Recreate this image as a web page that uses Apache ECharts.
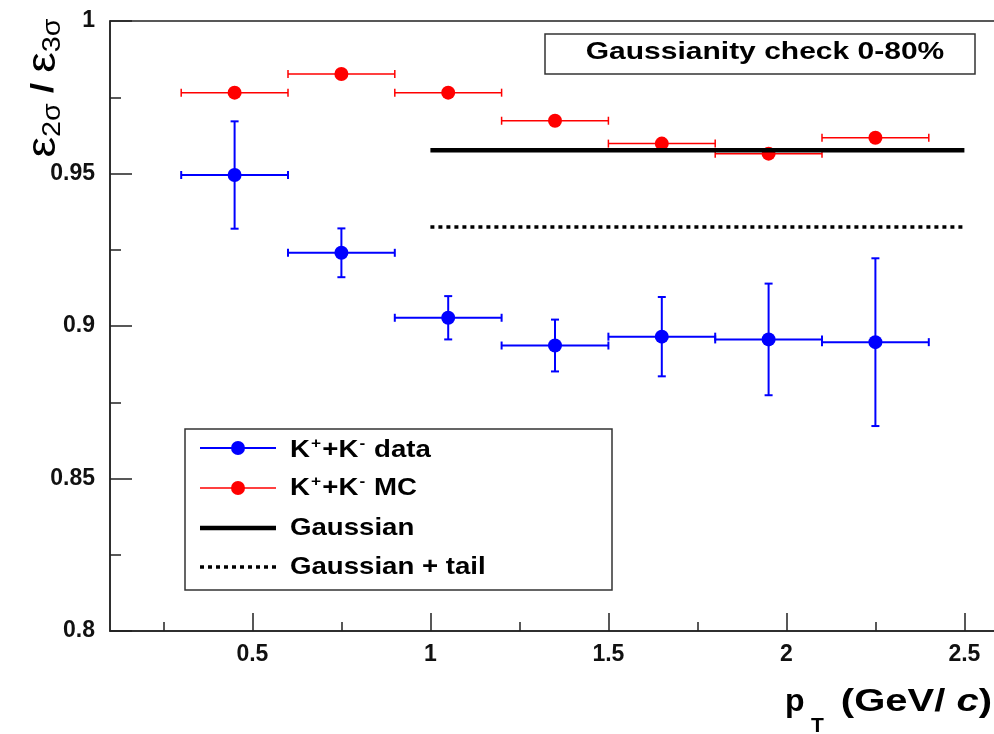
<!DOCTYPE html>
<html>
<head>
<meta charset="utf-8">
<script src="https://cdn.jsdelivr.net/npm/echarts@6/dist/echarts.min.js"></script>
<style>
html,body{margin:0;padding:0;background:#fff;}
#chart{width:994px;height:734px;}
</style>
</head>
<body>
<div id="chart"></div>
<script>
// ---- data ----
const ptCenters   = [0.45, 0.75, 1.05, 1.35, 1.65, 1.95, 2.25];
const ptHalfWidth = [0.15, 0.15, 0.15, 0.15, 0.15, 0.15, 0.15];
const dataRatio   = [0.9495, 0.9240, 0.9027, 0.8936, 0.8965, 0.8956, 0.8947];
const dataErr     = [0.0176, 0.0080, 0.0071, 0.0085, 0.0130, 0.0183, 0.0275];
const mcRatio     = [0.9765, 0.9826, 0.9765, 0.9673, 0.9598, 0.9565, 0.9617];
const mcErr       = [0, 0, 0, 0, 0, 0, 0];
const refRangeX   = [1.0, 2.5];
const gaussianY   = 0.9576;
const tailY       = 0.9325;
const xMajorTicks = [0.5, 1, 1.5, 2, 2.5];
const xMinorTicks = [0.25, 0.75, 1.25, 1.75, 2.25];

const BLUE = '#0000ff', RED = '#ff0000', AX = '#222';
const FONT = 'Liberation Sans, Arial, sans-serif';

function errData(ys, es) {
  return ptCenters.map((x, i) => [x, ys[i], ptHalfWidth[i], es[i]]);
}
function errRender(color, lw, cap) {
  return function (params, api) {
    const x = api.value(0), y = api.value(1), ex = api.value(2), ey = api.value(3);
    const l = api.coord([x - ex, y]), r = api.coord([x + ex, y]);
    const t = api.coord([x, y + ey]), b = api.coord([x, y - ey]);
    const st = { stroke: color, lineWidth: lw };
    const ch = [
      { type: 'line', shape: { x1: l[0], y1: l[1], x2: r[0], y2: r[1] }, style: st },
      { type: 'line', shape: { x1: l[0], y1: l[1] - cap, x2: l[0], y2: l[1] + cap }, style: st },
      { type: 'line', shape: { x1: r[0], y1: r[1] - cap, x2: r[0], y2: r[1] + cap }, style: st }
    ];
    if (ey > 0) {
      ch.push({ type: 'line', shape: { x1: t[0], y1: t[1], x2: b[0], y2: b[1] }, style: st });
      ch.push({ type: 'line', shape: { x1: t[0] - cap, y1: t[1], x2: t[0] + cap, y2: t[1] }, style: st });
      ch.push({ type: 'line', shape: { x1: b[0] - cap, y1: b[1], x2: b[0] + cap, y2: b[1] }, style: st });
    }
    return { type: 'group', children: ch };
  };
}

const chart = echarts.init(document.getElementById('chart'));
const labelStyle = { color: '#111', fontSize: 23, fontWeight: 'bold', fontFamily: FONT };

const supRich = {
  m: { fontSize: 24, fontWeight: 'bold', fontFamily: FONT, color: '#000', lineHeight: 28 },
  u: { fontSize: 15, fontWeight: 'bold', fontFamily: FONT, color: '#000', lineHeight: 15, verticalAlign: 'top', padding: [0, 1, 0, 1] }
};
const legTextScale = 1.15;

const option = {
  animation: false,
  backgroundColor: '#fff',
  grid: { left: 110, top: 21, width: 890, height: 610, show: true, borderColor: AX, borderWidth: 1.5,
          backgroundColor: 'transparent', outerBoundsMode: 'none', containLabel: false },
  xAxis: [
    {
      type: 'value', min: 0.1, max: 2.6,
      axisLine: { show: true, lineStyle: { color: AX, width: 1.5 } },
      axisTick: { show: true, inside: true, length: 18, customValues: xMajorTicks, lineStyle: { color: AX, width: 1.5 } },
      axisLabel: { show: true, customValues: xMajorTicks, margin: 12, ...labelStyle },
      splitLine: { show: false }
    },
    {
      type: 'value', min: 0.1, max: 2.6, position: 'bottom',
      axisLine: { show: false },
      axisTick: { show: true, inside: true, length: 9, customValues: xMinorTicks, lineStyle: { color: AX, width: 1.5 } },
      axisLabel: { show: false },
      splitLine: { show: false }
    }
  ],
  yAxis: {
    type: 'value', min: 0.8, max: 1.0, interval: 0.05,
    axisLine: { show: true, lineStyle: { color: AX, width: 1.5 } },
    axisTick: { show: true, inside: true, length: 22, lineStyle: { color: AX, width: 1.5 } },
    minorTick: { show: true, splitNumber: 2, length: 11, lineStyle: { color: AX, width: 1.5 } },
    axisLabel: { margin: 15, ...labelStyle },
    splitLine: { show: false }
  },
  series: [
    { type: 'custom', name: 'mcErr', renderItem: errRender(RED, 1.5, 4), data: errData(mcRatio, mcErr), z: 2 },
    { type: 'scatter', name: 'MC', data: ptCenters.map((x, i) => [x, mcRatio[i]]), symbol: 'circle', symbolSize: 14, itemStyle: { color: RED, opacity: 1 }, z: 3 },
    { type: 'custom', name: 'dataErr', renderItem: errRender(BLUE, 2, 4), data: errData(dataRatio, dataErr), z: 2 },
    { type: 'scatter', name: 'data', data: ptCenters.map((x, i) => [x, dataRatio[i]]), symbol: 'circle', symbolSize: 14, itemStyle: { color: BLUE, opacity: 1 }, z: 3 },
    { type: 'line', name: 'Gaussian', data: refRangeX.map(x => [x, gaussianY]), symbol: 'none', lineStyle: { color: '#000', width: 4.5 }, z: 5 },
    { type: 'line', name: 'Gaussian + tail', data: refRangeX.map(x => [x, tailY]), symbol: 'none', lineStyle: { color: '#000', width: 3.5, type: [4, 4] }, z: 5 }
  ],
  graphic: [
    // title box
    { type: 'rect', shape: { x: 545, y: 34, width: 430, height: 40 }, style: { fill: '#fff', stroke: '#333', lineWidth: 1.5 }, z: 10 },
    { type: 'text', x: 765, y: 52, scaleX: 1.25, style: { text: 'Gaussianity check 0-80%', font: 'bold 24px ' + FONT, fill: '#000', textAlign: 'center', textVerticalAlign: 'middle' }, z: 11 },
    // legend box
    { type: 'rect', shape: { x: 185, y: 429, width: 427, height: 161 }, style: { fill: '#fff', stroke: '#333', lineWidth: 1.5 }, z: 10 },
    { type: 'line', shape: { x1: 200, y1: 448, x2: 276, y2: 448 }, style: { stroke: BLUE, lineWidth: 2 }, z: 11 },
    { type: 'circle', shape: { cx: 238, cy: 448, r: 7 }, style: { fill: BLUE }, z: 12 },
    { type: 'line', shape: { x1: 200, y1: 488, x2: 276, y2: 488 }, style: { stroke: RED, lineWidth: 1.5 }, z: 11 },
    { type: 'circle', shape: { cx: 238, cy: 488, r: 7 }, style: { fill: RED }, z: 12 },
    { type: 'line', shape: { x1: 200, y1: 528, x2: 276, y2: 528 }, style: { stroke: '#000', lineWidth: 4.5 }, z: 11 },
    { type: 'line', shape: { x1: 200, y1: 567, x2: 276, y2: 567 }, style: { stroke: '#000', lineWidth: 3.5, lineDash: [4, 4] }, z: 11 },
    { type: 'text', x: 290, y: 450, scaleX: legTextScale, style: { text: '{m|K}{u|+}{m|+K}{u|-}{m| data}', rich: supRich, textVerticalAlign: 'middle' }, z: 11 },
    { type: 'text', x: 290, y: 488, scaleX: legTextScale, style: { text: '{m|K}{u|+}{m|+K}{u|-}{m| MC}', rich: supRich, textVerticalAlign: 'middle' }, z: 11 },
    { type: 'text', x: 290, y: 528, scaleX: legTextScale, style: { text: 'Gaussian', font: 'bold 24px ' + FONT, fill: '#000', textVerticalAlign: 'middle' }, z: 11 },
    { type: 'text', x: 290, y: 567, scaleX: legTextScale, style: { text: 'Gaussian + tail', font: 'bold 24px ' + FONT, fill: '#000', textVerticalAlign: 'middle' }, z: 11 },
    // y axis title
    { type: 'text', x: 44, y: 88, rotation: Math.PI / 2, scaleX: 1.15,
      style: { text: '{e|ε}{s|2σ}{b| / }{e|ε}{s|3σ}', textAlign: 'center', textVerticalAlign: 'middle',
        rich: {
          e: { fontSize: 40, fontFamily: FONT, color: '#000', lineHeight: 44 },
          s: { fontSize: 25, fontFamily: FONT, color: '#000', lineHeight: 25, verticalAlign: 'bottom' },
          b: { fontSize: 32, fontWeight: 'bold', fontFamily: FONT, color: '#000', lineHeight: 44 }
        } }, z: 11 },
    // x axis title
    { type: 'text', x: 785, y: 702, style: { text: 'p', font: 'bold 32px ' + FONT, fill: '#000', textVerticalAlign: 'middle' }, z: 11 },
    { type: 'text', x: 811, y: 726, style: { text: 'T', font: 'bold 21px ' + FONT, fill: '#000', textVerticalAlign: 'middle' }, z: 11 },
    { type: 'text', x: 992, y: 702, scaleX: 1.25,
      style: { text: '{p|(GeV/ }{i|c}{p|)}', textAlign: 'right', textVerticalAlign: 'middle',
        rich: {
          p: { fontSize: 32, fontWeight: 'bold', fontFamily: FONT, color: '#000', lineHeight: 36 },
          i: { fontSize: 32, fontWeight: 'bold', fontStyle: 'italic', fontFamily: FONT, color: '#000', lineHeight: 36 }
        } }, z: 11 }
  ]
};
chart.setOption(option);
</script>
</body>
</html>
